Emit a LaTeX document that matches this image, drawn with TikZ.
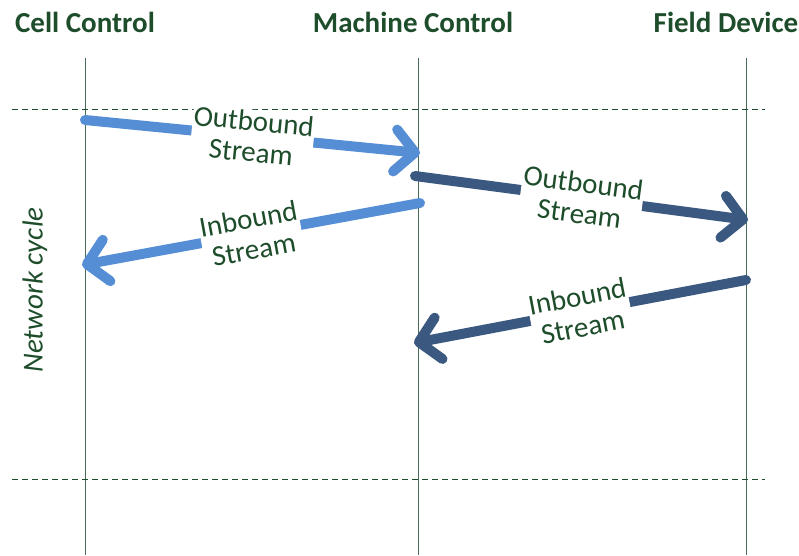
\documentclass[tikz,border=0pt]{standalone}
\usepackage{fontspec}
\setmainfont{Carlito}
\usetikzlibrary{arrows.meta}
\definecolor{txtgreen}{HTML}{1E4D2B}
\definecolor{lifegreen}{HTML}{4A6B55}
\definecolor{lightblue}{HTML}{558ED5}
\definecolor{darkblue}{HTML}{3A5880}
\tikzset{
  title/.style={font=\bfseries\fontsize{29}{33}\selectfont, text=txtgreen, inner sep=0pt},
  lifeline/.style={draw=lifegreen, line width=1pt},
  cycleline/.style={draw=txtgreen, dashed, dash pattern=on 6pt off 4pt, line width=0.9pt},
  stream/.style={line width=10pt, line cap=round, -{Straight Barb[length=20pt,width=42pt,line cap=round,line join=round]}},
  streamlabel/.style={font=\fontsize{29}{31}\selectfont, text=txtgreen, fill=white, align=center, inner sep=1pt, sloped},
}
\begin{document}
\begin{tikzpicture}[x=1pt,y=-1pt]
\useasboundingbox (0,0) rectangle (799,555);
% titles
\node[title] (cell) at (85,22) {Cell Control};
\node[title] (mach) at (413,22) {Machine Control};
\node[title] (field) at (726,22) {Field Device};
% lifelines
\coordinate (c1) at (85,58); \coordinate (c2) at (85,555);
\coordinate (m1) at (418,58); \coordinate (m2) at (418,555);
\coordinate (f1) at (746,58); \coordinate (f2) at (746,555);
\draw[lifeline] (c1) -- (c2);
\draw[lifeline] (m1) -- (m2);
\draw[lifeline] (f1) -- (f2);
% cycle lines
\coordinate (t1) at (12,109); \coordinate (t2) at (765,109);
\coordinate (b1) at (12,479); \coordinate (b2) at (765,479);
\draw[cycleline] (t1) -- (t2);
\draw[cycleline] (b1) -- (b2);
% network cycle label
\node[font=\itshape\fontsize{29}{33}\selectfont, text=txtgreen, rotate=90] (nc) at (35,290) {Network cycle};
% streams
\coordinate (a1s) at (85,120); \coordinate (a1e) at (420,153);
\coordinate (a2s) at (415,176); \coordinate (a2e) at (748,220);
\coordinate (a3s) at (420,203); \coordinate (a3e) at (82,265);
\coordinate (a4s) at (746,280); \coordinate (a4e) at (414,343);
\draw[stream, lightblue] (a1s) -- node[streamlabel, pos=0.5] (l1) {Outbound\\Stream} (a1e);
\draw[stream, darkblue] (a2s) -- node[streamlabel, pos=0.5] (l2) {Outbound\\Stream} (a2e);
\draw[stream, lightblue] (a3s) -- node[streamlabel, pos=0.5] (l3) {Inbound\\Stream} (a3e);
\draw[stream, darkblue] (a4s) -- node[streamlabel, pos=0.5] (l4) {Inbound\\Stream} (a4e);
\end{tikzpicture}
\end{document}
